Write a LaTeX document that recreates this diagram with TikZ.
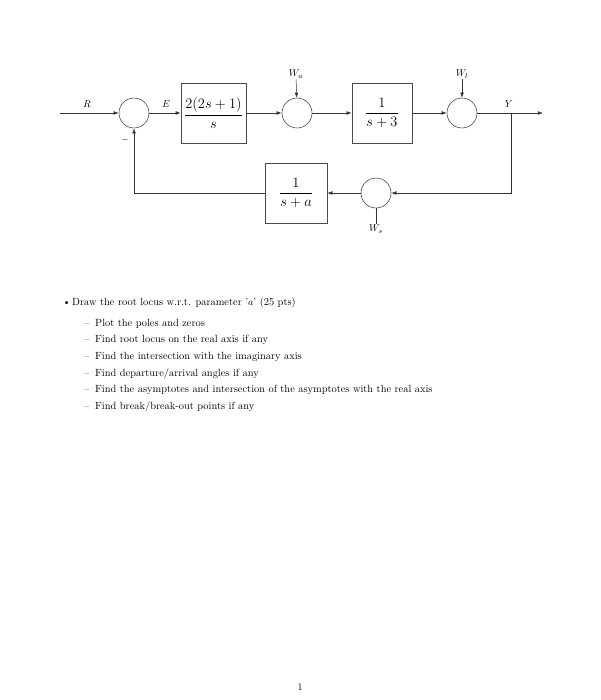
\documentclass[tikz,border=0pt]{standalone}
\usepackage{tikz}
\usetikzlibrary{arrows.meta, positioning, calc, shadows}

\begin{document}
\begin{tikzpicture}[
    x=1pt, y=-1pt,
    font=\normalsize,
    sumpt/.style={circle, draw=black!70, line width=0.6pt, fill=white,
        minimum size=30pt, inner sep=0pt},
    blk/.style={draw=black!70, line width=0.6pt, fill=white,
        minimum width=#1, minimum height=60pt, align=center,
        inner sep=1pt, font=\Large,
        drop shadow={opacity=0.35, shadow xshift=0.8pt, shadow yshift=-0.8pt}},
    sig/.style={-{Latex[length=5pt, width=3.6pt]}, draw=black!80, line width=0.5pt},
    wire/.style={draw=black!80, line width=0.5pt},
    lbl/.style={inner sep=1pt},
    txt/.style={anchor=base west, inner sep=0pt, font=\fontsize{10.4pt}{12.5pt}\selectfont},
  ]
  \useasboundingbox (0,0) rectangle (601,700);
  % forward path
  \coordinate (in) at (60,113);
  \node[sumpt] (s1) at (134,113) {};
  \node[blk=65pt] (g1) at (213.5,113) {$\displaystyle\frac{2(2s+1)}{s}$};
  \node[sumpt] (s2) at (297,113) {};
  \node[blk=60pt] (g2) at (382,113) {$\displaystyle\frac{1}{s+3}$};
  \node[sumpt] (s3) at (462,113) {};
  \coordinate (br) at (511,113);
  \coordinate (out) at (543,113);
  % feedback path
  \coordinate (fbr) at (511,193);
  \node[sumpt] (s4) at (376,193) {};
  \node[blk=62pt] (h) at (296,193) {$\displaystyle\frac{1}{s+a}$};
  \coordinate (fbl) at (134,193);
  % labels
  \node[lbl] (lr) at (87,104) {$R$};
  \node[lbl] (le) at (166,104) {$E$};
  \node[lbl] (ly) at (509,104) {$Y$};
  \node[lbl] (wa) at (296,74) {$W_a$};
  \node[lbl] (wl) at (462,74) {$W_l$};
  \node[lbl] (ws) at (376,229) {$W_s$};
  \node[lbl] (mn) at (125,140) {$-$};
  % connectors
  \draw[sig] (in) -- (s1);
  \draw[sig] (s1) -- (g1);
  \draw[sig] (g1) -- (s2);
  \draw[sig] (s2) -- (g2);
  \draw[sig] (g2) -- (s3);
  \draw[sig] (s3) -- (out);
  \draw[sig] (br) -- (fbr) -- (s4);
  \draw[sig] (s4) -- (h);
  \draw[sig] (h) -- (fbl) -- (s1);
  \draw[sig] (wa) -- (s2);
  \draw[sig] (wl) -- (s3);
  \draw[wire] (s4) -- (ws);
  % question text
  \node[txt] (q0) at (62.5,305.5) {\makebox[9.5pt][l]{\textbullet}Draw the root locus w.r.t. parameter '$a$' (25 pts)};
  \node[txt] (q1) at (84,326) {\makebox[11pt][l]{--}Plot the poles and zeros};
  \node[txt] (q2) at (84,342.5) {\makebox[11pt][l]{--}Find root locus on the real axis if any};
  \node[txt] (q3) at (84,359) {\makebox[11pt][l]{--}Find the intersection with the imaginary axis};
  \node[txt] (q4) at (84,376) {\makebox[11pt][l]{--}Find departure/arrival angles if any};
  \node[txt] (q5) at (84,392.5) {\makebox[11pt][l]{--}Find the asymptotes and intersection of the asymptotes with the real axis};
  \node[txt] (q6) at (84,409) {\makebox[11pt][l]{--}Find break/break-out points if any};
  \node (pg) at (300,687) {1};
\end{tikzpicture}
\end{document}
